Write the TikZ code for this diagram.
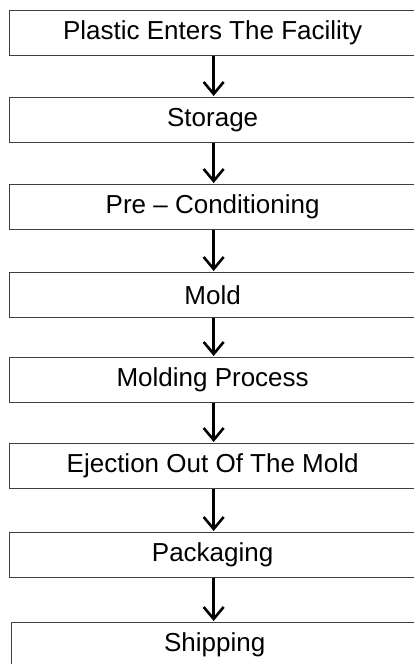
\documentclass[tikz,border=0pt]{standalone}
\usepackage{fontspec}
\setmainfont{Liberation Sans}
\usetikzlibrary{arrows.meta}
\begin{document}
\begin{tikzpicture}[x=1pt,y=-1pt,
  stepbox/.style={draw=black!75,line width=1.3pt,minimum width=406pt,minimum height=45pt,inner sep=0pt,anchor=north west,font=\fontsize{26}{30}\selectfont,text=black,fill=white},
  flow/.style={line width=2.6pt,black,-{Straight Barb[length=12pt,width=20pt,line width=2.6pt]},shorten >=1pt}]
\useasboundingbox (0,0) rectangle (414,664);
\clip (0,0) rectangle (414,664);
\node[stepbox] (b1) at (9,10) {Plastic Enters The Facility};
\node[stepbox] (b2) at (9,97) {Storage};
\node[stepbox] (b3) at (9,184) {Pre -- Conditioning};
\node[stepbox] (b4) at (9,272) {Mold};
\node[stepbox] (b5) at (9,357) {Molding Process};
\node[stepbox] (b6) at (9,443) {Ejection Out Of The Mold};
\node[stepbox] (b7) at (9,532) {Packaging};
\node[stepbox] (b8) at (11,622) {Shipping};
\draw[flow] ([xshift=1pt]b1.south) -- ([xshift=1pt]b2.north);
\draw[flow] ([xshift=1pt]b2.south) -- ([xshift=1pt]b3.north);
\draw[flow] ([xshift=1pt]b3.south) -- ([xshift=1pt]b4.north);
\draw[flow] ([xshift=1pt]b4.south) -- ([xshift=1pt]b5.north);
\draw[flow] ([xshift=1pt]b5.south) -- ([xshift=1pt]b6.north);
\draw[flow] ([xshift=1pt]b6.south) -- ([xshift=1pt]b7.north);
\draw[flow] ([xshift=1pt]b7.south) -- ([xshift=-1pt]b8.north);
\end{tikzpicture}
\end{document}
